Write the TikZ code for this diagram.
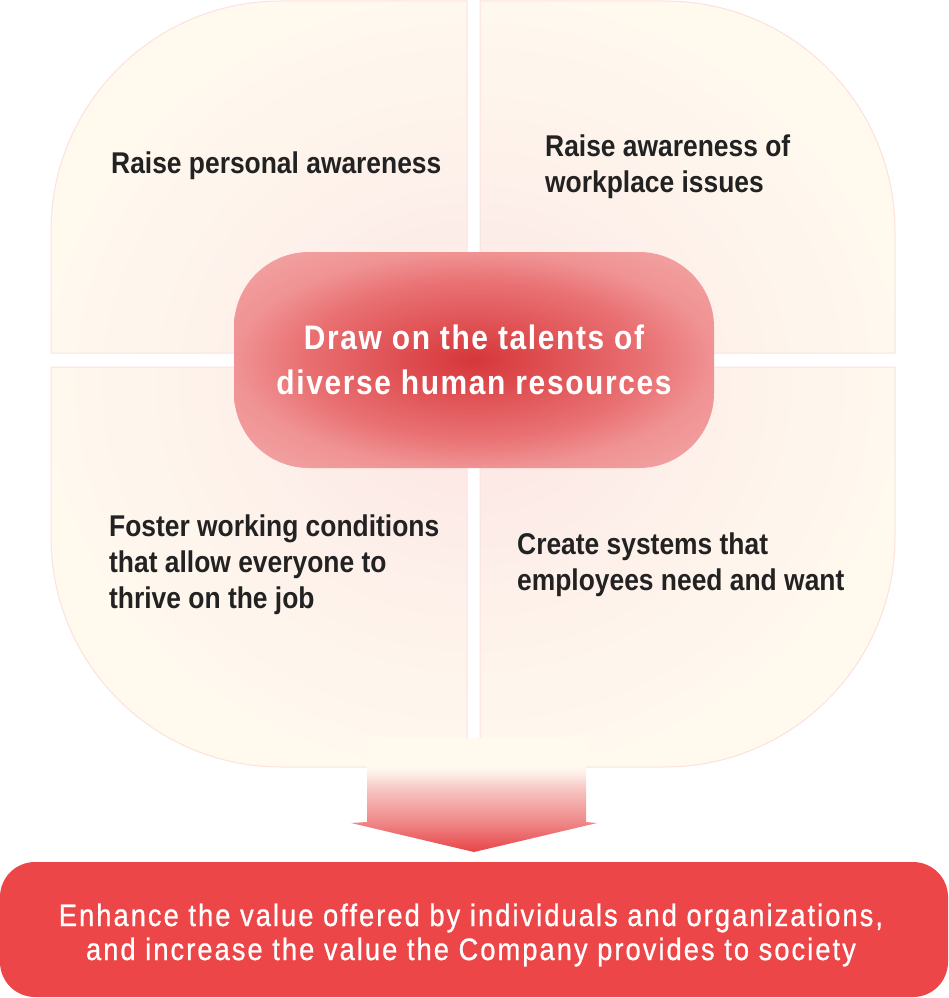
\documentclass[tikz,border=0pt]{standalone}
\usepackage{fontspec}
\newfontfamily\qfont{Liberation Sans}[FakeStretch=0.88]
\newfontfamily\cfont{Liberation Sans}[FakeStretch=0.88,LetterSpace=4.8]
\newfontfamily\bfont{Liberation Sans}[FakeStretch=0.88,LetterSpace=6.6,FakeBold=0.8]
\definecolor{qcream}{HTML}{FFF9EE}
\definecolor{qcreamA}{HTML}{FEF4EC}
\definecolor{qpinkB}{HTML}{FDEBE7}
\definecolor{qpinkA}{HTML}{FCE5E2}
\definecolor{qborder}{HTML}{FBE2DF}
\definecolor{pA}{HTML}{D6363A}
\definecolor{pB}{HTML}{DF5053}
\definecolor{pC}{HTML}{E97173}
\definecolor{pD}{HTML}{F09394}
\definecolor{pE}{HTML}{F3A6A6}
\definecolor{bannerred}{HTML}{ED4648}
\definecolor{ared}{HTML}{E84447}
\definecolor{aB}{HTML}{EF8787}
\definecolor{aC}{HTML}{F6C2BF}
\definecolor{aD}{HTML}{FCEBE4}
\definecolor{qtextcol}{HTML}{222222}
\pgfdeclareradialshading{quadglow}{\pgfpoint{0bp}{0bp}}{color(0bp)=(qpinkA); color(8bp)=(qpinkB); color(18bp)=(qcreamA); color(26bp)=(qcream); color(100bp)=(qcream)}
\pgfdeclareradialshading{pillglow}{\pgfpoint{0bp}{0bp}}{color(0bp)=(pA); color(8bp)=(pB); color(18bp)=(pC); color(25bp)=(pD); color(35bp)=(pE); color(100bp)=(pE)}
\pgfdeclareverticalshading{arrowfade}{100bp}{color(0bp)=(ared); color(25bp)=(ared); color(38bp)=(aB); color(52bp)=(aC); color(59bp)=(aD); color(62bp)=(qcream); color(100bp)=(qcream)}
\tikzset{
  qtext/.style={font=\qfont\bfseries\fontsize{30}{36}\selectfont, text=qtextcol, align=left, inner sep=0pt},
  qedge/.style={draw=qborder, line width=1pt},
  pill/.style={shape=rectangle, rounded corners=75pt, minimum width=480pt, minimum height=216pt, shade, shading=pillglow, text=white, font=\cfont\bfseries\fontsize{34}{45}\selectfont, align=center, inner sep=0pt},
  banner/.style={shape=rectangle, rounded corners=35pt, minimum width=948pt, minimum height=135pt, fill=bannerred, text=white, font=\bfont\fontsize{31}{34}\selectfont, align=center, inner sep=0pt},
  blockarrow/.style={shade, shading=arrowfade}
}
\begin{document}
\begin{tikzpicture}[x=1pt,y=-1pt]
\fill[white] (0,0) rectangle (948,998);
\useasboundingbox (0,0) rectangle (948,998);
% quadrants
\shade[shading=quadglow]
  (51,353) -- (51,231) arc[start angle=180,end angle=270,radius=230] -- (467,1) -- (467,353) -- cycle
  (480,1) -- (665,1) arc[start angle=270,end angle=360,radius=230] -- (895,353) -- (480,353) -- cycle
  (51,367) -- (51,537) arc[start angle=180,end angle=90,radius=230] -- (467,767) -- (467,367) -- cycle
  (480,367) -- (895,367) -- (895,537) arc[start angle=0,end angle=90,radius=230] -- (480,767) -- cycle;
\draw[qedge] (51,353) -- (51,231) arc[start angle=180,end angle=270,radius=230] -- (467,1) -- (467,353) -- cycle;
\draw[qedge] (480,1) -- (665,1) arc[start angle=270,end angle=360,radius=230] -- (895,353) -- (480,353) -- cycle;
\draw[qedge] (51,367) -- (51,537) arc[start angle=180,end angle=90,radius=230] -- (467,767) -- (467,367) -- cycle;
\draw[qedge] (480,367) -- (895,367) -- (895,537) arc[start angle=0,end angle=90,radius=230] -- (480,767) -- cycle;
% quadrant texts (base anchor = baseline of the last line)
\node[qtext, anchor=base west] (q1) at (111,173) {Raise personal awareness};
\node[qtext, anchor=base west] (q2) at (545,192) {Raise awareness of\\workplace issues};
\node[qtext, anchor=base west] (q3) at (109,608) {Foster working conditions\\that allow everyone to\\thrive on the job};
\node[qtext, anchor=base west] (q4) at (517,590) {Create systems that\\employees need and want};
% centre
\node[pill] (core) at (474,360) {Draw on the talents of\\diverse human resources};
% bottom banner
\node[banner] (goal) at (474,929.5) {};
\node[font=\bfont\fontsize{31}{34}\selectfont, text=white, align=center, inner sep=0pt, anchor=base] (goaltext) at (471,960) {Enhance the value offered by individuals and organizations,\\and increase the value the Company provides to society};
% block arrow
\coordinate (atip) at (474,852);
\shade[blockarrow] (367,738) -- (586,738) -- (586,822) -- (597,823) -- (atip) -- (351,823) -- (367,822) -- cycle;
\end{tikzpicture}
\end{document}
